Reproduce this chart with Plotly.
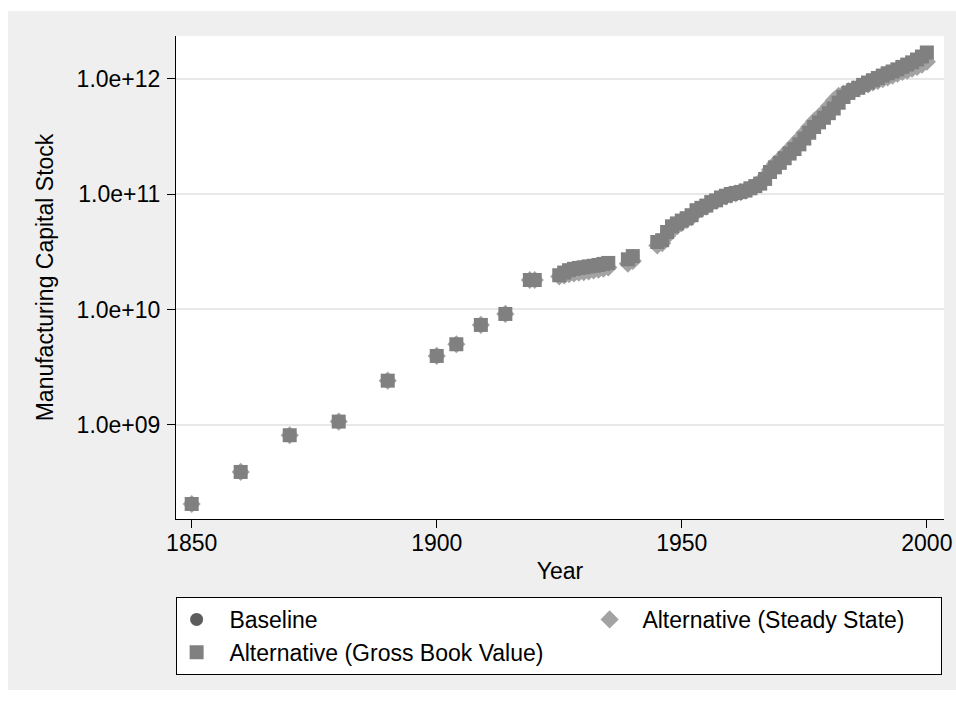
import plotly.graph_objects as go

# ---------------- data ----------------
years_early = [1850, 1860, 1870, 1880, 1890, 1900, 1904, 1909, 1914, 1919, 1920]
values_early = [2.07e8, 3.92e8, 8.15e8, 1.07e9, 2.42e9, 3.96e9, 5.0e9, 7.35e9, 9.15e9, 1.80e10, 1.80e10]

years_later = [1925, 1926, 1927, 1928, 1929, 1930, 1931, 1932, 1933, 1934, 1935,
               1939, 1940,
               1945, 1946, 1947, 1948, 1949, 1950, 1951, 1952, 1953, 1954,
               1955, 1956, 1957, 1958, 1959, 1960, 1961, 1962, 1963, 1964,
               1965, 1966, 1967, 1968, 1969, 1970, 1971, 1972, 1973, 1974,
               1975, 1976, 1977, 1978, 1979, 1980, 1981, 1982, 1983, 1984,
               1985, 1986, 1987, 1988, 1989, 1990, 1991, 1992, 1993, 1994,
               1995, 1996, 1997, 1998, 1999, 2000]

gross_book_later = [1.98e10, 2.09e10, 2.19e10, 2.25e10, 2.29e10, 2.32e10, 2.36e10, 2.39e10, 2.43e10, 2.48e10, 2.53e10,
                    2.72e10, 2.90e10,
                    3.84e10, 3.98e10, 4.69e10, 5.25e10, 5.56e10, 5.89e10, 6.17e10, 6.55e10, 7.24e10, 7.59e10,
                    7.94e10, 8.51e10, 8.81e10, 9.33e10, 9.66e10, 1.00e11, 1.02e11, 1.04e11, 1.07e11, 1.12e11,
                    1.17e11, 1.23e11, 1.35e11, 1.55e11, 1.70e11, 1.86e11, 2.04e11, 2.24e11, 2.45e11, 2.69e11,
                    3.02e11, 3.39e11, 3.80e11, 4.17e11, 4.57e11, 5.01e11, 5.50e11, 6.17e11, 6.92e11, 7.50e11,
                    7.94e11, 8.32e11, 8.81e11, 9.23e11, 9.66e11, 1.01e12, 1.06e12, 1.11e12, 1.15e12, 1.20e12,
                    1.26e12, 1.32e12, 1.38e12, 1.46e12, 1.55e12, 1.68e12]

steady_state_later = [1.93e10, 1.97e10, 2.02e10, 2.05e10, 2.08e10, 2.11e10, 2.14e10, 2.18e10, 2.21e10, 2.26e10, 2.31e10,
                      2.49e10, 2.63e10,
                      3.59e10, 3.76e10, 4.32e10, 4.90e10, 5.25e10, 5.62e10, 5.96e10, 6.31e10, 7.00e10, 7.41e10,
                      7.76e10, 8.32e10, 8.71e10, 9.23e10, 9.55e10, 9.89e10, 1.01e11, 1.04e11, 1.07e11, 1.12e11,
                      1.19e11, 1.26e11, 1.41e11, 1.62e11, 1.82e11, 2.00e11, 2.21e11, 2.45e11, 2.72e11, 3.02e11,
                      3.39e11, 3.80e11, 4.27e11, 4.68e11, 5.13e11, 5.75e11, 6.46e11, 7.08e11, 7.41e11, 7.76e11,
                      8.04e11, 8.32e11, 8.61e11, 8.91e11, 9.23e11, 9.55e11, 9.89e11, 1.02e12, 1.06e12, 1.10e12,
                      1.14e12, 1.17e12, 1.22e12, 1.26e12, 1.32e12, 1.40e12]

# baseline series (hidden under the squares after 1920)
baseline_later = [1.98e10, 2.09e10, 2.19e10, 2.25e10, 2.29e10, 2.32e10, 2.36e10, 2.39e10, 2.43e10, 2.48e10, 2.53e10,
                  2.72e10, 2.90e10,
                  3.84e10, 3.98e10, 4.69e10, 5.25e10, 5.56e10, 5.89e10, 6.17e10, 6.55e10, 7.24e10, 7.59e10,
                  7.94e10, 8.51e10, 8.81e10, 9.33e10, 9.66e10, 1.00e11, 1.02e11, 1.04e11, 1.07e11, 1.12e11,
                  1.17e11, 1.23e11, 1.35e11, 1.55e11, 1.70e11, 1.86e11, 2.04e11, 2.24e11, 2.45e11, 2.69e11,
                  3.02e11, 3.39e11, 3.80e11, 4.17e11, 4.57e11, 5.01e11, 5.50e11, 6.17e11, 6.92e11, 7.50e11,
                  7.94e11, 8.32e11, 8.81e11, 9.23e11, 9.66e11, 1.01e12, 1.06e12, 1.11e12, 1.15e12, 1.20e12,
                  1.26e12, 1.32e12, 1.38e12, 1.46e12, 1.55e12, 1.68e12]

series_names = ["Baseline", "Alternative (Steady State)", "Alternative (Gross Book Value)"]
x_tick_vals = [1850, 1900, 1950, 2000]
y_tick_vals = [1e9, 1e10, 1e11, 1e12]
y_tick_text = ["1.0e+09", "1.0e+10", "1.0e+11", "1.0e+12"]

# ---------------- figure ----------------
FONT = "Liberation Sans, Arial, Helvetica, sans-serif"
W, H = 956, 702
L, R, T, B = 176, 12, 36, 183
PW, PH = W - L - R, H - T - B
PAD = "\u00a0\u00a0"

years_all = years_early + years_later

fig = go.Figure()
fig.add_trace(go.Scatter(
    x=years_all, y=values_early + baseline_later, mode="markers", name=PAD + series_names[0],
    legendwidth=368,
    marker=dict(symbol="circle", size=13, color="#5c5c5c", line=dict(width=0))))
fig.add_trace(go.Scatter(
    x=years_all, y=values_early + steady_state_later, mode="markers", name=PAD + series_names[1],
    legendwidth=306,
    marker=dict(symbol="diamond", size=14, color="#a3a3a3", line=dict(width=0))))
fig.add_trace(go.Scatter(
    x=years_all, y=values_early + gross_book_later, mode="markers", name=PAD + series_names[2],
    legendwidth=368,
    marker=dict(symbol="square", size=14, color="#808080", line=dict(width=0))))


def px_x(p):
    return (p - L) / PW


def px_y(p):
    return (H - B - p) / PH


shapes = [
    dict(type="rect", xref="paper", yref="paper", layer="below",
         x0=px_x(8), x1=px_x(960), y0=px_y(690), y1=px_y(11),
         fillcolor="#efefef", line=dict(width=0)),
    dict(type="rect", xref="paper", yref="paper", layer="below",
         x0=0, x1=1, y0=0, y1=1, fillcolor="white", line=dict(width=0)),
]

fig.update_layout(
    width=W, height=H,
    margin=dict(l=L, r=R, t=T, b=B, pad=0),
    paper_bgcolor="white", plot_bgcolor="white",
    font=dict(family=FONT, size=23, color="black"),
    shapes=shapes,
    showlegend=True,
    legend=dict(
        orientation="h", x=-0.0005, xanchor="left", y=px_y(597), yanchor="top",
        bgcolor="white", bordercolor="black", borderwidth=1,
        itemwidth=30,
        font=dict(family=FONT, size=23, color="black"),
        traceorder="normal",
    ),
    xaxis=dict(
        range=[1846.8, 2003.5], tickmode="array", tickvals=x_tick_vals,
        ticks="outside", ticklen=8, tickwidth=1, tickcolor="black",
        showline=True, linecolor="black", linewidth=1, mirror=False,
        showgrid=False, zeroline=False, ticklabelstandoff=-5,
        tickfont=dict(family=FONT, size=23, color="black"),
        title=dict(text="Year", font=dict(family=FONT, size=23, color="black"), standoff=8),
        automargin=False,
    ),
    yaxis=dict(
        type="log", range=[8.186, 12.368], tickmode="array",
        tickvals=y_tick_vals, ticktext=y_tick_text,
        ticks="outside", ticklen=8, tickwidth=1, tickcolor="black",
        showline=True, linecolor="black", linewidth=1, mirror=False,
        showgrid=True, gridcolor="#e8e8e8", gridwidth=2, zeroline=False,
        ticklabelstandoff=2,
        tickfont=dict(family=FONT, size=23, color="black"),
        title=dict(text="Manufacturing Capital Stock", font=dict(family=FONT, size=23, color="black"), standoff=16),
        automargin=False,
    ),
)

fig.write_html("out.html", config={"displayModeBar": False},
               post_script="document.body.style.margin='0px'; document.body.style.overflow='hidden';")
